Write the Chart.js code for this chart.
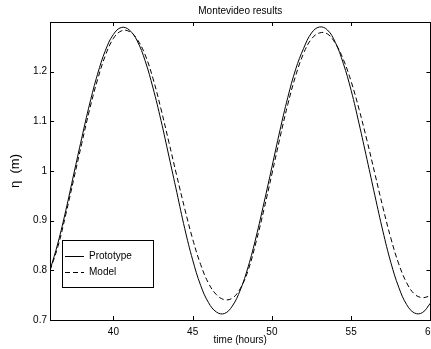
<!DOCTYPE html>
<html>
<head>
<meta charset="utf-8">
<script src="https://cdn.jsdelivr.net/npm/chart.js@4.4.1/dist/chart.umd.min.js"></script>
<style>
  html, body { margin: 0; padding: 0; background: #fff; overflow: hidden; }
  #wrap { width: 442px; height: 349px; position: relative; }
</style>
</head>
<body>
<div id="wrap"><canvas id="tideChart"></canvas></div>
<script>
const times = [36, 36.5, 37, 37.5, 38, 38.5, 39, 39.5, 40, 40.5, 41, 41.5, 42, 42.5, 43, 43.5,
  44, 44.5, 45, 45.5, 46, 46.5, 47, 47.5, 48, 48.5, 49, 49.5, 50, 50.5, 51, 51.5,
  52, 52.5, 53, 53.5, 54, 54.5, 55, 55.5, 56, 56.5, 57, 57.5, 58, 58.5, 59, 59.5, 60];

const prototype = [0.800, 0.855, 0.921, 0.994, 1.066, 1.135, 1.195, 1.243, 1.275, 1.289, 1.284, 1.262,
  1.222, 1.167, 1.102, 1.030, 0.957, 0.884, 0.821, 0.770, 0.735, 0.716, 0.713, 0.728,
  0.760, 0.807, 0.867, 0.936, 1.008, 1.081, 1.148, 1.205, 1.247, 1.278, 1.290, 1.284,
  1.259, 1.217, 1.162, 1.095, 1.023, 0.950, 0.879, 0.816, 0.766, 0.731, 0.714, 0.715, 0.734];

const model = [0.800, 0.848, 0.913, 0.984, 1.055, 1.124, 1.184, 1.233, 1.267, 1.282, 1.281, 1.265,
  1.234, 1.186, 1.125, 1.058, 0.990, 0.924, 0.863, 0.812, 0.774, 0.751, 0.741, 0.744,
  0.763, 0.800, 0.857, 0.923, 0.994, 1.066, 1.134, 1.192, 1.237, 1.266, 1.278, 1.276,
  1.257, 1.225, 1.180, 1.124, 1.061, 0.994, 0.927, 0.865, 0.813, 0.775, 0.752, 0.745, 0.749];

const xTicks = [40, 45, 50, 55, 60];
const yTicks = [0.7, 0.8, 0.9, 1.0, 1.1, 1.2];

const FONT = 'Liberation Sans, Arial, Helvetica, sans-serif';

function toPoints(ys) {
  return ys.map((y, i) => ({ x: times[i], y: y }));
}

// matlab style frame: full box, inward ticks, title, labels, legend
const matlabFrame = {
  id: 'matlabFrame',
  afterDraw(chart) {
    const ctx = chart.ctx;
    const a = chart.chartArea;
    const xs = chart.scales.x, ys = chart.scales.y;
    const tl = 4;
    ctx.save();
    ctx.strokeStyle = '#000';
    ctx.lineWidth = 1;
    ctx.setLineDash([]);
    ctx.beginPath();
    xTicks.forEach(v => {
      const px = Math.round(xs.getPixelForValue(v)) + 0.5;
      ctx.moveTo(px, a.bottom); ctx.lineTo(px, a.bottom - tl);
      ctx.moveTo(px, a.top); ctx.lineTo(px, a.top + tl);
    });
    yTicks.forEach(v => {
      const py = Math.round(ys.getPixelForValue(v)) + 0.5;
      ctx.moveTo(a.left, py); ctx.lineTo(a.left + tl, py);
      ctx.moveTo(a.right, py); ctx.lineTo(a.right - tl, py);
    });
    ctx.stroke();
    ctx.strokeRect(Math.round(a.left) + 0.5, Math.round(a.top) + 0.5,
      Math.round(a.right - a.left), Math.round(a.bottom - a.top));

    // title and axis labels
    ctx.fillStyle = '#000';
    ctx.textAlign = 'center';
    ctx.textBaseline = 'middle';
    ctx.font = '10px ' + FONT;
    ctx.fillText('Montevideo results', (a.left + a.right) / 2, 11);
    ctx.fillText('time (hours)', (a.left + a.right) / 2, 340);
    ctx.save();
    ctx.translate(15, (a.top + a.bottom) / 2);
    ctx.rotate(-Math.PI / 2);
    ctx.font = '13px ' + FONT;
    ctx.fillText('\u03b7  (m)', 0, 0);
    ctx.restore();

    // legend box
    const bx = 62.5, by = 240.5, bw = 91, bh = 47;
    ctx.fillStyle = '#fff';
    ctx.fillRect(bx, by, bw, bh);
    ctx.strokeRect(bx, by, bw, bh);
    ctx.font = '10px ' + FONT;
    ctx.textAlign = 'left';
    chart.data.datasets.forEach((ds, i) => {
      const ly = 256.5 + i * 16;
      ctx.setLineDash(ds.borderDash || []);
      ctx.beginPath();
      ctx.moveTo(65, ly); ctx.lineTo(84, ly);
      ctx.stroke();
      ctx.fillStyle = '#000';
      ctx.fillText(ds.label, 89, ly);
    });
    ctx.restore();
  }
};

new Chart(document.getElementById('tideChart').getContext('2d'), {
  type: 'line',
  data: {
    datasets: [
      {
        label: 'Prototype',
        data: toPoints(prototype),
        borderColor: '#000',
        borderWidth: 1,
        pointRadius: 0,
        tension: 0.4,
        fill: false
      },
      {
        label: 'Model',
        data: toPoints(model),
        borderColor: '#000',
        borderWidth: 1,
        borderDash: [5, 3],
        pointRadius: 0,
        tension: 0.4,
        fill: false
      }
    ]
  },
  options: {
    responsive: true,
    maintainAspectRatio: false,
    animation: false,
    layout: { padding: { top: 22, right: 10, left: 0, bottom: 0 } },
    plugins: {
      legend: { display: false },
      title: { display: false },
      tooltip: { enabled: false }
    },
    scales: {
      x: {
        type: 'linear',
        min: 36,
        max: 60,
        afterBuildTicks: s => { s.ticks = xTicks.map(v => ({ value: v })); },
        afterFit: s => { s.height = 29; },
        grid: { display: false, drawTicks: false },
        border: { display: false },
        ticks: {
          color: '#000',
          padding: 6,
          maxRotation: 0,
          font: { family: FONT, size: 10 },
          callback: v => String(v)
        }
      },
      y: {
        type: 'linear',
        min: 0.7,
        max: 1.3,
        afterBuildTicks: s => { s.ticks = yTicks.map(v => ({ value: v })); },
        afterFit: s => { s.width = 50; },
        grid: { display: false, drawTicks: false },
        border: { display: false },
        ticks: {
          color: '#000',
          padding: 3,
          font: { family: FONT, size: 10 },
          callback: v => String(Math.round(v * 10) / 10)
        }
      }
    }
  },
  plugins: [matlabFrame]
});
</script>
</body>
</html>
